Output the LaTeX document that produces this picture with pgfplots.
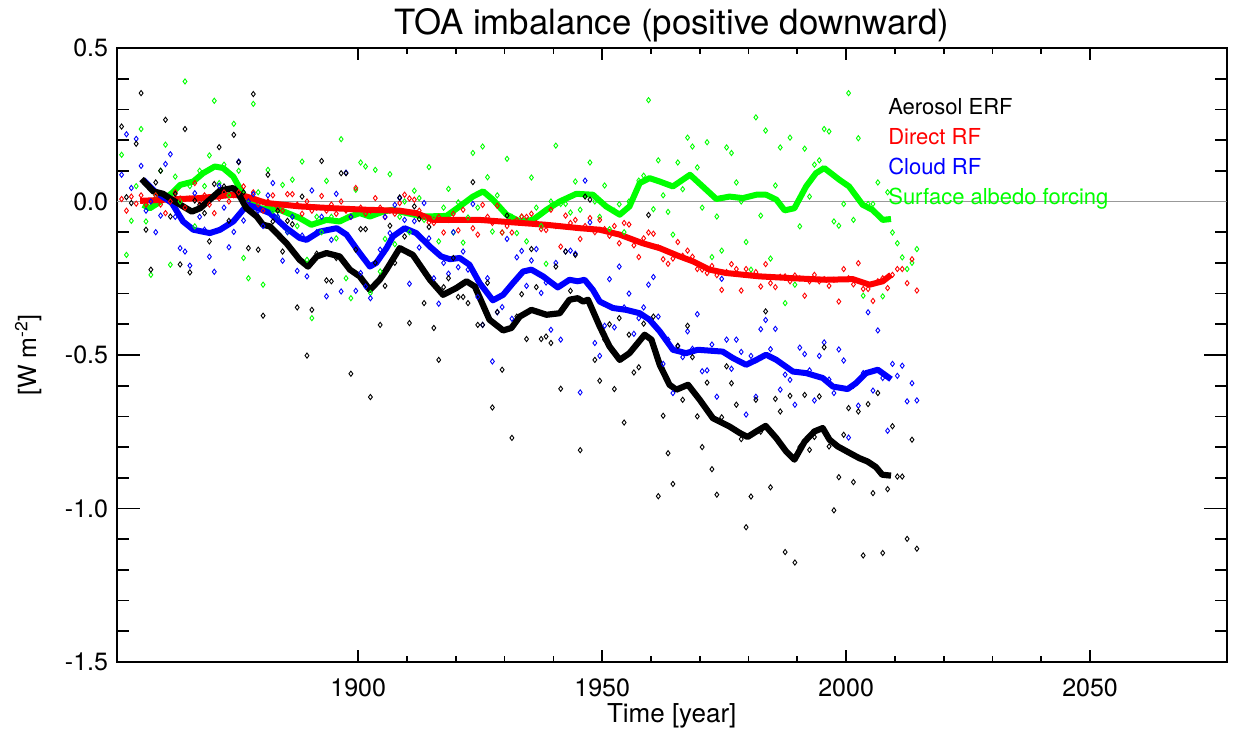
\documentclass[border=0pt]{standalone}
\usepackage{fontspec}
\setmainfont{TeX Gyre Heros}
\usepackage{pgfplots}
\usepackage{pgfplotstable}
\pgfplotsset{compat=1.18}
\definecolor{ired}{RGB}{255,0,0}
\definecolor{iblue}{RGB}{0,0,255}
\definecolor{igreen}{RGB}{0,255,0}

\pgfplotstableread{
yr blk red blu grn
1851 0.244 0.008 0.087 0.152
1852 0.014 -0.030 0.219 -0.174
1853 -0.005 0.016 0.044 -0.063
1854 0.188 -0.007 0.204 0.050
1855 0.353 0.020 0.116 0.236
1856 -0.092 -0.010 -0.030 -0.065
1857 -0.222 0.000 0.000 -0.239
1858 0.062 0.020 -0.100 0.020
1859 0.100 -0.010 -0.046 0.100
1860 0.266 -0.038 0.122 0.185
1861 -0.049 0.000 0.154 -0.206
1862 0.025 0.030 -0.050 0.081
1863 -0.205 0.010 -0.152 0.000
1864 0.236 -0.020 -0.163 0.391
1865 -0.231 0.010 -0.209 0.050
1866 0.003 0.060 0.027 -0.081
1867 -0.011 0.000 -0.050 0.100
1868 -0.038 0.020 -0.092 0.050
1869 -0.130 -0.010 -0.180 0.150
1870 0.057 -0.038 -0.229 0.328
1871 0.177 0.010 0.051 0.060
1872 0.049 0.030 -0.020 0.120
1873 -0.063 0.000 -0.149 0.020
1874 0.217 0.020 -0.099 0.253
1875 0.128 0.030 0.130 0.100
1876 0.030 0.049 -0.062 -0.184
1877 -0.152 0.000 0.000 -0.250
1878 0.350 0.030 0.024 0.318
1879 -0.157 -0.010 -0.030 0.030
1880 -0.372 -0.030 -0.080 -0.271
1881 0.087 0.000 0.020 0.103
1882 -0.065 0.020 0.060 -0.030
1883 -0.030 -0.020 -0.050 -0.050
1884 -0.163 -0.030 -0.193 0.054
1885 -0.063 0.024 -0.100 -0.100
1886 -0.074 0.024 -0.050 0.071
1887 -0.345 -0.010 -0.226 -0.080
1888 0.016 -0.040 -0.111 0.130
1889 -0.502 0.000 -0.244 -0.190
1890 -0.353 -0.030 0.036 -0.380
1891 -0.170 -0.020 -0.100 -0.050
1892 0.132 0.018 -0.050 -0.100
1893 -0.257 -0.030 -0.309 0.067
1894 -0.260 -0.010 -0.125 -0.050
1895 -0.184 -0.040 0.025 -0.120
1896 0.092 0.000 -0.293 0.203
1897 0.092 -0.030 0.094 -0.250
1898 -0.561 -0.050 -0.050 -0.315
1899 -0.157 0.044 -0.291 0.038
1900 -0.090 -0.020 -0.233 0.127
1901 -0.090 -0.040 -0.277 0.114
1902 -0.637 -0.030 -0.315 -0.298
1903 -0.200 0.011 -0.200 0.103
1904 -0.402 -0.020 -0.157 -0.228
1905 -0.275 -0.051 -0.050 -0.122
1906 -0.079 -0.030 -0.103 0.089
1907 -0.200 -0.040 -0.011 -0.139
1908 0.013 -0.005 0.011 -0.050
1909 -0.114 0.022 -0.060 0.000
1910 -0.396 0.010 -0.268 -0.100
1911 -0.016 0.006 -0.064 0.035
1912 -0.057 -0.030 -0.150 0.011
1913 -0.331 -0.049 -0.005 -0.060
1914 -0.083 -0.068 -0.120 0.112
1915 -0.412 -0.070 -0.250 -0.050
1916 -0.516 -0.050 -0.333 -0.130
1917 -0.279 -0.101 -0.200 -0.020
1918 -0.250 -0.060 -0.235 0.041
1919 -0.184 -0.040 -0.100 -0.101
1920 -0.311 -0.094 -0.214 -0.003
1921 -0.311 -0.027 -0.163 -0.134
1922 -0.331 -0.060 -0.222 -0.052
1923 0.063 -0.087 -0.008 0.158
1924 -0.402 -0.108 -0.311 -0.020
1925 -0.402 -0.011 -0.402 0.179
1926 -0.265 -0.050 -0.250 0.079
1927 -0.671 -0.070 -0.521 -0.098
1928 -0.360 -0.014 -0.361 0.020
1929 -0.548 -0.101 -0.344 -0.101
1930 -0.046 -0.080 -0.122 0.139
1931 -0.770 -0.101 -0.382 -0.050
1932 -0.375 -0.060 -0.182 -0.103
1933 -0.302 -0.049 -0.161 -0.050
1934 -0.448 -0.050 -0.275 -0.130
1935 -0.155 -0.040 -0.192 0.078
1936 -0.279 -0.070 -0.155 -0.020
1937 -0.448 -0.090 -0.298 -0.080
1938 -0.440 -0.093 -0.264 -0.203
1939 -0.461 -0.027 -0.418 0.000
1940 -0.212 -0.080 -0.200 0.182
1941 -0.610 -0.147 -0.450 -0.008
1942 -0.163 -0.046 -0.163 -0.008
1943 -0.291 -0.070 -0.160 -0.036
1944 -0.174 -0.060 -0.170 0.065
1945 -0.810 -0.122 -0.622 -0.027
1946 0.016 -0.080 0.068 0.020
1947 0.006 -0.054 -0.068 0.127
1948 -0.516 -0.100 -0.461 0.000
1949 -0.584 -0.060 -0.503 -0.050
1950 -0.450 -0.090 -0.405 0.052
1951 -0.400 -0.112 -0.253 -0.090
1952 -0.611 -0.080 -0.410 -0.030
1953 -0.380 -0.136 -0.212 -0.009
1954 -0.720 -0.070 -0.345 -0.100
1955 -0.434 -0.075 -0.300 0.000
1956 -0.557 -0.143 -0.431 0.020
1957 -0.540 -0.181 -0.380 0.068
1958 -0.398 -0.120 -0.345 0.084
1959 -0.044 -0.101 -0.271 0.330
1960 -0.375 -0.105 -0.246 -0.025
1961 -0.960 -0.150 -0.375 0.134
1962 -0.698 -0.188 -0.529 0.020
1963 -0.820 -0.203 -0.450 -0.034
1964 -0.920 -0.186 -0.624 -0.108
1965 -0.470 -0.132 -0.472 0.127
1966 -0.646 -0.177 -0.507 0.040
1967 -0.405 -0.160 -0.423 0.208
1968 -0.507 -0.180 -0.480 0.179
1969 -0.700 -0.220 -0.367 0.111
1970 -0.800 -0.222 -0.553 -0.020
1971 -0.590 -0.233 -0.550 0.193
1972 -0.872 -0.210 -0.466 -0.181
1973 -0.955 -0.240 -0.636 -0.049
1974 -0.703 -0.288 -0.252 -0.160
1975 -0.537 -0.230 -0.450 0.176
1976 -0.592 -0.204 -0.545 0.158
1977 -0.662 -0.220 -0.450 0.062
1978 -0.774 -0.290 -0.490 0.000
1979 -1.061 -0.220 -0.694 -0.132
1980 -0.961 -0.240 -0.503 -0.222
1981 -0.646 -0.230 -0.636 0.274
1982 -0.750 -0.277 -0.416 -0.046
1983 -0.358 -0.204 -0.386 0.231
1984 -0.931 -0.266 -0.481 -0.186
1985 -0.643 -0.279 -0.415 0.052
1986 -0.684 -0.245 -0.613 0.176
1987 -1.142 -0.244 -0.564 -0.331
1988 -0.633 -0.260 -0.581 0.208
1989 -1.176 -0.241 -0.662 -0.271
1990 -0.800 -0.250 -0.476 -0.081
1991 -0.630 -0.307 -0.497 0.172
1992 -0.809 -0.260 -0.550 0.016
1993 -0.767 -0.239 -0.648 0.120
1994 -0.635 -0.260 -0.503 0.134
1995 -0.475 -0.253 -0.459 0.236
1996 -0.798 -0.275 -0.580 0.228
1997 -1.006 -0.255 -0.624 -0.065
1998 -0.898 -0.326 -0.482 -0.079
1999 -0.760 -0.220 -0.518 -0.008
2000 -0.673 -0.250 -0.769 0.353
2001 -0.914 -0.270 -0.600 -0.060
2002 -0.684 -0.201 -0.665 0.206
2003 -1.153 -0.285 -0.559 -0.307
2004 -0.660 -0.285 -0.361 -0.008
2005 -0.950 -0.324 -0.616 -0.008
2006 -0.624 -0.260 -0.420 0.062
2007 -1.145 -0.250 -0.575 -0.309
2008 -0.937 -0.282 -0.747 0.030
2009 -0.732 -0.239 -0.529 -0.101
2010 -0.896 -0.220 -0.568 -0.136
2011 -0.896 -0.220 -0.535 -0.182
2012 -1.099 -0.266 -0.651 -0.220
2013 -0.776 -0.188 -0.592 -0.200
2014 -1.131 -0.290 -0.648 -0.155
}\annual

\begin{document}
\begin{tikzpicture}
\begin{axis}[name=ax, scale only axis, width=555pt, height=307pt,
  xmin=1850.5, xmax=2078, ymin=-1.5, ymax=0.5,
  xtick={1900,1950,2000,2050}, xticklabels={1900,1950,2000,2050},
  minor x tick num=4,
  ytick={-1.5,-1,-0.5,0,0.5}, yticklabels={-1.5,-1.0,-0.5,0.0,0.5},
  minor y tick num=4,
  tick align=inside, xtick pos=both, ytick pos=both,
  axis line style={line width=1pt},
  every tick/.style={black, line width=0.85pt},
  major x tick style={/pgfplots/major tick length=6pt},
  minor x tick style={/pgfplots/minor tick length=3pt},
  major y tick style={/pgfplots/major tick length=11.5pt},
  minor y tick style={/pgfplots/minor tick length=6pt},
  ticklabel style={font=\fontsize{12.5}{14}\selectfont},
  xticklabel style={anchor=base, yshift=-17.5pt},
  yticklabel style={anchor=east, xshift=-0.8pt},
  clip=true,
]
% zero reference line
\addplot[gray!80, line width=0.5pt] coordinates {(1850.5,0) (2078,0)};

% smoothed lines
\addplot[igreen, line width=3pt, line join=round] coordinates {
(1855.9,-0.011) (1857.3,-0.022) (1859.0,-0.005) (1861.8,0.027) (1863.5,0.054)
(1866.2,0.065) (1868.2,0.092) (1870.6,0.114) (1872.3,0.109) (1874.4,0.081)
(1875.7,0.044) (1877.1,0.006) (1879.8,-0.022) (1883.9,-0.027) (1888.0,-0.054)
(1890.4,-0.076) (1893.5,-0.060) (1896.2,-0.065) (1898.3,-0.049) (1900.3,-0.038)
(1902.4,-0.049) (1905.1,-0.033) (1907.1,-0.027) (1910.0,-0.038) (1913.3,-0.049)
(1918.1,-0.047) (1920.8,-0.016) (1923.5,0.016) (1925.6,0.033) (1927.6,0.006)
(1930.4,-0.043) (1933.1,-0.065) (1935.8,-0.060) (1938.6,-0.027) (1941.3,0.000)
(1944.7,0.025) (1948.1,0.022) (1950.8,-0.016) (1953.6,-0.043) (1955.6,-0.016)
(1957.7,0.060) (1959.7,0.076) (1961.8,0.065) (1964.5,0.049) (1968.0,0.087)
(1970.6,0.049) (1973.4,0.008) (1976.1,0.016) (1978.8,0.011) (1981.6,0.022)
(1983.6,0.022) (1985.7,0.006) (1987.4,-0.029) (1989.4,-0.022) (1991.8,0.049)
(1993.8,0.092) (1995.5,0.109) (1998.6,0.071) (2000.6,0.049) (2003.4,-0.011)
(2005.4,-0.027) (2007.5,-0.060) (2009.2,-0.057)};

\addplot[ired, line width=3pt, line join=round] coordinates {
(1855.3,0.002) (1860.7,0.006) (1867.6,0.011) (1874.4,0.022) (1877.1,0.016)
(1881.2,-0.005) (1888.0,-0.016) (1894.9,-0.022) (1901.7,-0.027) (1908.5,-0.030)
(1911.9,-0.038) (1915.3,-0.060) (1924.9,-0.060) (1931.7,-0.068) (1938.6,-0.076)
(1945.4,-0.087) (1949.5,-0.092) (1953.6,-0.108) (1958.3,-0.136) (1961.8,-0.152)
(1965.9,-0.179) (1968.6,-0.195) (1972.0,-0.222) (1975.4,-0.233) (1982.3,-0.244)
(1989.1,-0.250) (1995.9,-0.255) (2001.4,-0.253) (2004.8,-0.271) (2007.5,-0.260)
(2009.2,-0.239)};

\addplot[iblue, line width=3pt, line join=round] coordinates {
(1855.9,0.071) (1858.3,0.033) (1861.8,-0.005) (1864.1,-0.065) (1866.2,-0.092)
(1869.6,-0.103) (1871.7,-0.092) (1874.4,-0.065) (1876.4,-0.027) (1877.4,-0.011)
(1879.5,-0.022) (1881.9,-0.038) (1885.3,-0.087) (1888.0,-0.119) (1889.4,-0.125)
(1892.1,-0.098) (1895.6,-0.087) (1897.6,-0.108) (1900.3,-0.168) (1902.4,-0.212)
(1903.7,-0.200) (1905.8,-0.152) (1907.1,-0.114) (1909.5,-0.087) (1911.9,-0.103)
(1914.7,-0.147) (1917.0,-0.179) (1918.8,-0.188) (1920.8,-0.184) (1922.8,-0.206)
(1924.9,-0.266) (1927.6,-0.322) (1929.7,-0.304) (1931.7,-0.266) (1933.8,-0.228)
(1935.5,-0.222) (1937.9,-0.244) (1940.9,-0.280) (1943.3,-0.255) (1945.0,-0.260)
(1946.4,-0.255) (1948.1,-0.288) (1949.5,-0.326) (1952.2,-0.347) (1954.9,-0.353)
(1957.7,-0.364) (1959.7,-0.385) (1961.8,-0.423) (1964.5,-0.483) (1967.2,-0.494)
(1969.6,-0.483) (1974.7,-0.489) (1976.8,-0.510) (1979.5,-0.532) (1981.6,-0.516)
(1983.6,-0.499) (1985.7,-0.516) (1989.1,-0.554) (1991.8,-0.559) (1995.2,-0.575)
(1997.3,-0.603) (2000.3,-0.611) (2002.0,-0.592) (2004.1,-0.559) (2006.5,-0.548)
(2009.2,-0.579)};

\addplot[black, line width=3.1pt, line join=round] coordinates {
(1855.6,0.073) (1858.0,0.033) (1860.0,0.025) (1861.8,0.006) (1864.0,-0.015)
(1865.9,-0.033) (1867.6,-0.022) (1870.3,0.016) (1871.7,0.036) (1874.4,0.044)
(1875.4,0.027) (1877.1,-0.022) (1879.2,-0.049) (1880.5,-0.076) (1881.9,-0.081)
(1885.3,-0.136) (1888.0,-0.190) (1889.7,-0.212) (1891.5,-0.179) (1893.5,-0.168)
(1896.2,-0.179) (1898.3,-0.222) (1900.3,-0.244) (1902.4,-0.288) (1904.4,-0.255)
(1905.8,-0.222) (1908.5,-0.152) (1911.2,-0.174) (1914.7,-0.255) (1917.4,-0.304)
(1920.1,-0.282) (1922.2,-0.260) (1923.9,-0.277) (1926.9,-0.385) (1929.7,-0.420)
(1931.4,-0.412) (1933.1,-0.375) (1935.5,-0.353) (1938.6,-0.369) (1941.3,-0.364)
(1943.3,-0.320) (1945.0,-0.315) (1946.1,-0.326) (1947.1,-0.320) (1949.5,-0.407)
(1951.5,-0.472) (1953.6,-0.516) (1955.6,-0.494) (1958.7,-0.434) (1960.1,-0.450)
(1961.8,-0.532) (1963.8,-0.597) (1965.2,-0.613) (1967.6,-0.597) (1970.0,-0.646)
(1972.7,-0.706) (1976.1,-0.733) (1978.2,-0.754) (1979.8,-0.767) (1981.6,-0.749)
(1983.5,-0.731) (1985.7,-0.771) (1987.7,-0.814) (1989.4,-0.841) (1991.5,-0.782)
(1993.5,-0.749) (1995.2,-0.738) (1996.6,-0.776) (1998.3,-0.798) (2001.4,-0.825)
(2002.7,-0.836) (2004.4,-0.847) (2006.1,-0.865) (2007.4,-0.890) (2009.2,-0.893)};

% annual values
\pgfplotsset{annmark/.style={only marks, mark=diamond, mark size=1.3pt,
  mark options={line width=0.45pt, fill=none}}}
\addplot[annmark, igreen] table[x expr=\thisrow{yr}+0.5, y=grn] {\annual};
\addplot[annmark, ired] table[x expr=\thisrow{yr}+0.5, y=red] {\annual};
\addplot[annmark, iblue] table[x expr=\thisrow{yr}+0.5, y=blu] {\annual};
\addplot[annmark, black] table[x expr=\thisrow{yr}+0.5, y=blk] {\annual};

% legend text
\node[anchor=base west, font=\fontsize{11}{13}\selectfont, text=black] at (axis cs:2007.2,0.282) {Aerosol ERF};
\node[anchor=base west, font=\fontsize{11}{13}\selectfont, text=ired] at (axis cs:2007.2,0.185) {Direct RF};
\node[anchor=base west, font=\fontsize{11}{13}\selectfont, text=iblue] at (axis cs:2007.2,0.089) {Cloud RF};
\node[anchor=base west, font=\fontsize{11}{13}\selectfont, text=igreen] at (axis cs:2007.2,-0.011) {Surface albedo forcing};
\end{axis}
\node[anchor=base, font=\fontsize{17.4}{20}\selectfont] at ([yshift=6.5pt]ax.north) {TOA imbalance (positive downward)};
\node[anchor=base, font=\fontsize{13}{15}\selectfont] at ([yshift=-30.5pt]ax.south) {Time [year]};
\node[rotate=90, anchor=center, font=\fontsize{12.5}{14}\selectfont] at ([xshift=-44.3pt]ax.west) {[W m\textsuperscript{-2}]};
\pgfresetboundingbox
\path ([shift={(-58.35pt,-37pt)}]ax.south west) rectangle ([shift={(6.15pt,24pt)}]ax.north east);
\end{tikzpicture}
\end{document}
